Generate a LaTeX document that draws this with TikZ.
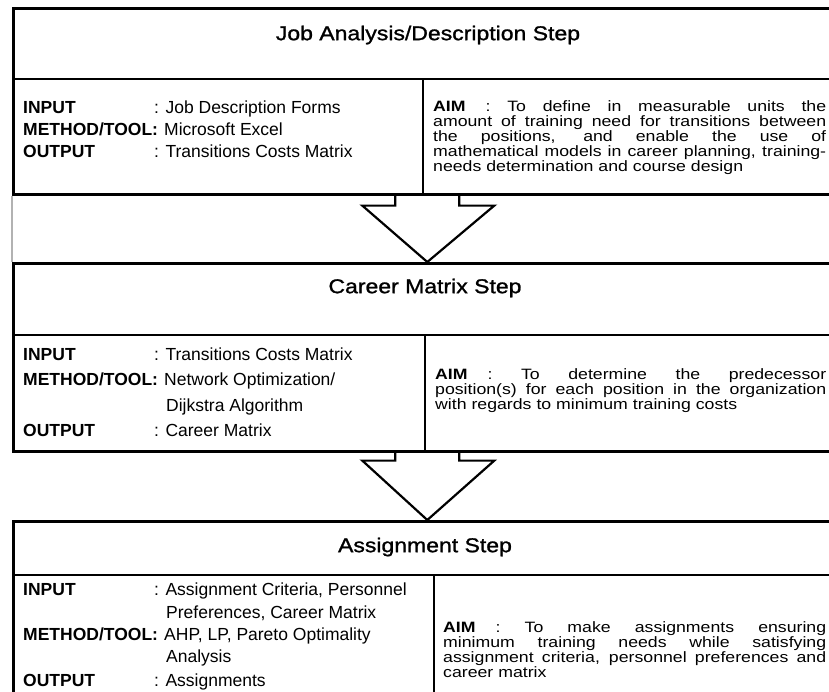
\documentclass[tikz,border=0pt]{standalone}
\usepackage{fontspec}
\setmainfont{Liberation Sans}
\newfontfamily\widesans{Liberation Sans}[FakeStretch=1.15,FakeBold=1.2]
\newfontfamily\aimsans{Liberation Sans}[FakeStretch=1.18]
\usetikzlibrary{calc}
\begin{document}
\begin{tikzpicture}[x=1pt,y=-1pt,
  outline/.style={draw, line width=2.6pt, rectangle, inner sep=0pt, anchor=north west, minimum width=828pt},
  rule/.style={line width=2.6pt},
  blockarrow/.style={draw, line width=2.2pt, line join=miter},
  steptitle/.style={font=\widesans\fontsize{20}{22}\selectfont, inner sep=0pt},
  field/.style={font=\fontsize{17.5}{20}\selectfont, anchor=base west, inner sep=0pt},
  aimline/.style={font=\aimsans\fontsize{15}{15}\selectfont, anchor=base west, inner sep=0pt}
]
\clip (0,0) rectangle (829,691);
\fill[white] (0,0) rectangle (829,691);

% step frames
\node[outline, minimum height=186pt] (box1) at (12,7) {};
\node[outline, minimum height=188pt] (box2) at (12,262) {};
\node[outline, minimum height=190pt] (box3) at (12,520) {};

% title rules and column dividers
\draw[rule] (12,79) -- (840,79);
\draw[rule] (423,79) -- (423,193);
\draw[rule] (12,335) -- (840,335);
\draw[rule] (425,335) -- (425,450);
\draw[rule] (12,575) -- (840,575);
\draw[rule] (434,575) -- (434,710);

% thin side line between the first two frames
\draw[gray!60, line width=1.2pt] (box1.south west) -- (box2.north west);

% block arrows between the steps
\draw[blockarrow] ($(box1.south)+(-32,0)$) -- ++(0,10) -- ++(-33,0) -- (box2.north)
  -- ($(box1.south)+(67,10)$) -- ++(-35,0) -- ++(0,-10);
\draw[blockarrow] ($(box2.south)+(-32,0)$) -- ++(0,8) -- ++(-33,0) -- (box3.north)
  -- ($(box2.south)+(67,8)$) -- ++(-35,0) -- ++(0,-8);

% titles
\node[steptitle] (t1) at (428,35) {Job Analysis/Description Step};
\node[steptitle] (t2) at (425,288) {Career Matrix Step};
\node[steptitle] (t3) at (425,547) {Assignment Step};

% step 1 fields
\node[field] (in1) at (23,113) {\textbf{INPUT}};
\node[field] (in1v) at (154,113) {: Job Description Forms};
\node[field] (me1) at (23,135) {\textbf{METHOD/TOOL:}};
\node[field] (me1v) at (164,135) {Microsoft Excel};
\node[field] (ou1) at (23,157) {\textbf{OUTPUT}};
\node[field] (ou1v) at (154,157) {: Transitions Costs Matrix};
\node[aimline] (a11) at (433,111) {\makebox[393pt][s]{\textbf{AIM}\hspace{20pt}: To define in measurable units the}};
\node[aimline] (a12) at (433,126) {\makebox[393pt][s]{amount of training need for transitions between}};
\node[aimline] (a13) at (433,141) {\makebox[393pt][s]{the positions, and enable the use of}};
\node[aimline] (a14) at (433,156) {\makebox[393pt][s]{mathematical models in career planning, training-}};
\node[aimline] (a15) at (433,171) {needs determination and course design};

% step 2 fields
\node[field] (in2) at (23,360) {\textbf{INPUT}};
\node[field] (in2v) at (154,360) {: Transitions Costs Matrix};
\node[field] (me2) at (23,385) {\textbf{METHOD/TOOL:}};
\node[field] (me2v) at (164,385) {Network Optimization/};
\node[field] (me2w) at (166,411) {Dijkstra Algorithm};
\node[field] (ou2) at (23,436) {\textbf{OUTPUT}};
\node[field] (ou2v) at (154,436) {: Career Matrix};
\node[aimline] (a21) at (435,379) {\makebox[391pt][s]{\textbf{AIM}\hspace{20pt}: To determine the predecessor}};
\node[aimline] (a22) at (435,394) {\makebox[391pt][s]{position(s) for each position in the organization}};
\node[aimline] (a23) at (435,409) {with regards to minimum training costs};

% step 3 fields
\node[field] (in3) at (23,595) {\textbf{INPUT}};
\node[field] (in3v) at (154,595) {: Assignment Criteria, Personnel};
\node[field] (in3w) at (166,618) {Preferences, Career Matrix};
\node[field] (me3) at (23,640) {\textbf{METHOD/TOOL:}};
\node[field] (me3v) at (164,640) {AHP, LP, Pareto Optimality};
\node[field] (me3w) at (166,662) {Analysis};
\node[field] (ou3) at (23,686) {\textbf{OUTPUT}};
\node[field] (ou3v) at (154,686) {: Assignments};
\node[aimline] (a31) at (443,632) {\makebox[383pt][s]{\textbf{AIM}\hspace{20pt}: To make assignments ensuring}};
\node[aimline] (a32) at (443,647) {\makebox[383pt][s]{minimum training needs while satisfying}};
\node[aimline] (a33) at (443,662) {\makebox[383pt][s]{assignment criteria, personnel preferences and}};
\node[aimline] (a34) at (443,677) {career matrix};
\end{tikzpicture}
\end{document}
